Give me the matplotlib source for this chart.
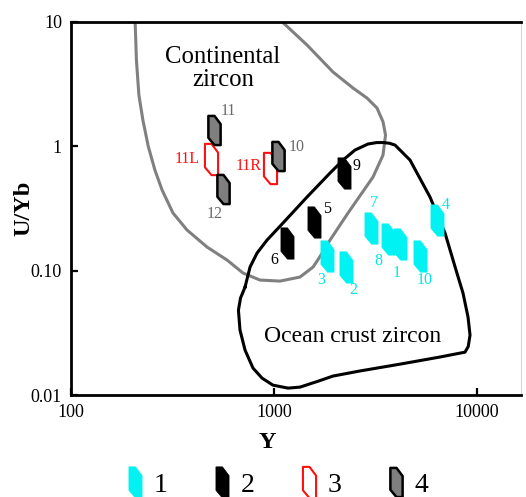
import matplotlib
matplotlib.use("Agg")
import matplotlib.pyplot as plt
from matplotlib.path import Path
from matplotlib.lines import Line2D

plt.rcParams['font.family'] = ['Liberation Serif', 'DejaVu Serif']

# ---- sample data (Y ppm, U/Yb) ----
cyan_ids = ['1', '2', '3', '4', '7', '8', '10']
cyan_y = [4176, 2271, 1818, 6332, 3004, 3624, 5238]
cyan_u = [0.165, 0.107, 0.132, 0.257, 0.220, 0.178, 0.132]

black_ids = ['5', '6', '9']
black_y = [1574, 1163, 2212]
black_u = [0.246, 0.167, 0.610]

red_ids = ['11L', '11R']
red_y = [489, 959]
red_u = [0.788, 0.673]

grey_ids = ['10', '11', '12']
grey_y = [1046, 508, 558]
grey_u = [0.828, 1.35, 0.452]

# ---- field outlines ----
cont_y = [207, 210, 216, 226, 240, 259, 281, 318, 373, 468, 587, 704, 853, 1070,
          1343, 1557, 1666, 1888, 2315, 3074, 3443, 3543, 3443, 3217, 2871, 2450,
          1953, 1454, 1095]
cont_u = [10, 4.92, 2.575, 1.621, 1.002, 0.6425, 0.4438, 0.29, 0.2117, 0.1545,
          0.1215, 0.0955, 0.0839, 0.0823, 0.0887, 0.1067, 0.126, 0.1758, 0.29,
          0.5645, 0.848, 1.228, 1.570, 2.024, 2.435, 2.931, 3.942, 6.498, 10]

ocean_y = [720, 762, 825, 924, 1107, 1454, 1888, 2188, 2506, 2904, 3200, 3443, 3700,
           3945, 4677, 5868, 6958, 7882, 8531, 9031, 9238, 9050, 8728, 6574, 4176,
           2652, 1953, 1647, 1343, 1172, 988, 873, 788, 720, 680, 668, 684, 720]
ocean_u = [0.0737, 0.1067, 0.1382, 0.1758, 0.2409, 0.3898, 0.6079, 0.7731, 0.9302,
           1.04, 1.068, 1.069, 1.055, 1.02, 0.7731, 0.3898, 0.2002, 0.1009, 0.0659,
           0.0423, 0.0303, 0.0245, 0.0221, 0.0202, 0.0177, 0.0156, 0.0142, 0.0129,
           0.01157, 0.01136, 0.0120, 0.01367, 0.01645, 0.02296, 0.0332, 0.0481,
           0.0601, 0.0737]

x_ticks = [100, 1000, 10000]
x_ticklabels = ['100', '1000', '10000']
y_ticks = [0.01, 0.1, 1, 10]
y_ticklabels = ['0.01', '0.10', '1', '10']

# label offsets (pixels, right / down)
cyan_off = [(-3, 29), (7, 23), (-6, 24), (9, -15), (3, -25), (-9, 22), (5, 24.5)]
black_off = [(13, -13), (-13, 17), (13, -7)]
red_off = [(-24, 0), (-21.5, -1.5)]
grey_off = [(18.5, -9.5), (14, -18.5), (-8, 25)]

# zircon crystal shaped marker
w = 0.42
zv = [(0, 1), (0.5, 1), (1, 0.72), (1, 0), (0.5, 0), (0, 0.25), (0, 1)]
zircon = Path([((a - 0.5) * w, b - 0.5) for a, b in zv], closed=True)
MS = 22.5

fig = plt.figure(figsize=(5.26, 4.97), dpi=100)
ax = fig.add_axes([71/526, 1-395/497, 450/526, (395-21.7)/497])
ax.set_xscale('log')
ax.set_yscale('log')

ax.plot(cont_y, cont_u, color='#808080', lw=2.2, zorder=2, solid_capstyle='butt')
ax.plot(ocean_y, ocean_u, color='black', lw=2.2, zorder=2, solid_joinstyle='round')

ax.plot(cyan_y, cyan_u, ls='none', marker=zircon, ms=MS, mfc='#00f2f2', mec='#00f2f2', mew=0.5, zorder=3)
ax.plot(black_y, black_u, ls='none', marker=zircon, ms=MS, mfc='black', mec='black', mew=0.5, zorder=3)
ax.plot(red_y, red_u, ls='none', marker=zircon, ms=MS, mfc='none', mec='#ff1010', mew=1.5, zorder=3)
ax.plot(grey_y, grey_u, ls='none', marker=zircon, ms=MS - 1.5, mfc='#7f7f7f', mec='black', mew=1.8, zorder=4)

def put_labels(ids, xs, ys, offs, color):
    for t, x, y, (dx, dy) in zip(ids, xs, ys, offs):
        ax.annotate(t, (x, y), xytext=(dx*0.72, -dy*0.72), textcoords='offset points',
                    ha='center', va='center', fontsize=11.5, color=color, zorder=5)

put_labels(cyan_ids, cyan_y, cyan_u, cyan_off, '#00e6e6')
put_labels(black_ids, black_y, black_u, black_off, 'black')
put_labels(red_ids, red_y, red_u, red_off, '#ff1010')
put_labels(grey_ids, grey_y, grey_u, grey_off, '#6a6a6a')

ax.text(561, 4.2, 'Continental\nzircon', ha='center', va='center', fontsize=17.8, linespacing=1.1)
ax.text(2436, 0.0268, 'Ocean crust zircon', ha='center', va='baseline', fontsize=17)

ax.set_xlim(100, 16470)
ax.set_ylim(0.01, 10)
ax.set_xticks(x_ticks)
ax.set_xticklabels(x_ticklabels)
ax.set_yticks(y_ticks)
ax.set_yticklabels(y_ticklabels)
ax.minorticks_off()
ax.tick_params(direction='in', length=5, width=1.6, labelsize=13)
ax.tick_params(axis='x', pad=6.5)
ax.tick_params(axis='y', pad=6.5)
for s in ['left', 'bottom', 'top']:
    ax.spines[s].set_linewidth(2)
ax.spines['right'].set_color('#d8d8d8')
ax.spines['right'].set_linewidth(0.8)

ax.set_xlabel('Y', fontsize=17.5, fontweight='bold')
ax.xaxis.set_label_coords((267-71)/450, -0.099)
ax.set_ylabel('U/Yb', fontsize=17.5, fontweight='bold')
ax.yaxis.set_label_coords(-0.081, 0.5)

handles = [
    Line2D([], [], ls='none', marker=zircon, ms=MS, mfc='#00f2f2', mec='#00f2f2', mew=0.5),
    Line2D([], [], ls='none', marker=zircon, ms=MS, mfc='black', mec='black', mew=0.5),
    Line2D([], [], ls='none', marker=zircon, ms=MS, mfc='none', mec='#ff1010', mew=1.5),
    Line2D([], [], ls='none', marker=zircon, ms=MS - 1.5, mfc='#7f7f7f', mec='black', mew=1.8),
]
fig.legend(handles, ['1', '2', '3', '4'], loc='center', bbox_to_anchor=(0.529, 1-485/497),
           ncol=4, frameon=False, fontsize=20, numpoints=1, handlelength=0.5,
           handletextpad=0.42, columnspacing=1.72, borderpad=0)

fig.savefig('out.png', dpi=100)
